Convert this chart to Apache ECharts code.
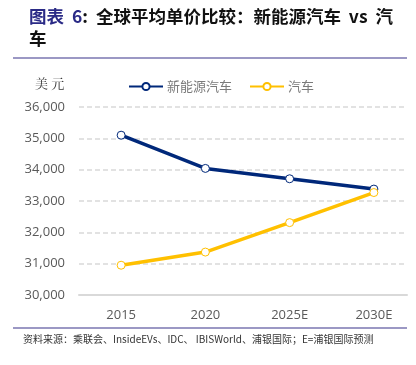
<!DOCTYPE html>
<html><head><meta charset="utf-8">
<script src="https://cdn.jsdelivr.net/npm/echarts@6/dist/echarts.min.js"></script>
<style>html,body{margin:0;padding:0;background:#fff}#c{width:416px;height:365px}</style>
</head><body><div id="c"></div>
<script>
const categories = ['2015', '2020', '2025E', '2030E'];
const evPrice = [35100, 34040, 33710, 33380];
const icePrice = [30950, 31370, 32310, 33270];
const yTicks = { min: 30000, max: 36000, interval: 1000 };
const seriesNames = ['新能源汽车', '汽车'];

const chart = echarts.init(document.getElementById('c'), null, { renderer: 'canvas' });
const labelFont = '"Open Sans", "Noto Sans", sans-serif';
const cjk = '"Noto Sans CJK SC", sans-serif';
const option = {
  backgroundColor: '#ffffff',
  animation: false,
  title: {
    left: 24, top: 0,
    text: '{a|图表  6}{b|:  全球平均单价比较：新能源汽车  vs  汽}\n{b|车}',
    textStyle: {
      rich: {
        a: { fontFamily: cjk, fontWeight: 'bold', fontSize: 17.5, color: '#2a2a86', lineHeight: 22 },
        b: { fontFamily: cjk, fontWeight: 'bold', fontSize: 17.5, color: '#111111', lineHeight: 22 }
      }
    }
  },
  legend: {
    left: 123, top: 75, padding: 5,
    itemWidth: 34, itemHeight: 9, itemGap: 17,
    textStyle: { fontFamily: cjk, fontSize: 13, color: '#7a7a7a', padding: [0, 0, 0, -1] },
    data: seriesNames
  },
  graphic: [
    { type: 'line', shape: { x1: 13, y1: 58, x2: 407, y2: 58 }, style: { stroke: '#7a76b0', lineWidth: 1.5 } },
    { type: 'line', shape: { x1: 13, y1: 328, x2: 407, y2: 328 }, style: { stroke: '#7a76b0', lineWidth: 1.5 } },
    { type: 'text', left: 35, top: 77, style: { text: '美 元', font: '13px "Noto Serif CJK SC", "Noto Sans CJK SC", serif', fill: '#333333' } },
    { type: 'text', left: 23, top: 334, style: { text: '资料来源：乘联会、InsideEVs、IDC、 IBISWorld、浦银国际；E=浦银国际预测', font: '10px "Noto Sans CJK SC", sans-serif', fill: '#333333' } }
  ],
  grid: [
    { left: 79, width: 339, top: 107, bottom: 70, containLabel: false },
    { left: 79, width: 328, top: 107, bottom: 70, containLabel: false }
  ],
  xAxis: [
    {
      gridIndex: 0, type: 'category', data: categories, boundaryGap: true,
      axisLine: { show: false }, axisTick: { show: false },
      axisLabel: { margin: 14, fontFamily: labelFont, fontSize: 13, color: '#595959' }
    },
    {
      gridIndex: 1, type: 'category', data: categories,
      axisLine: { show: true, lineStyle: { color: '#d9d9d9', width: 2 } },
      axisTick: { show: false }, axisLabel: { show: false }
    }
  ],
  yAxis: [
    {
      gridIndex: 0, type: 'value', min: yTicks.min, max: yTicks.max, interval: yTicks.interval,
      axisLine: { show: false }, axisTick: { show: false }, axisLabel: { show: false }, splitLine: { show: false }
    },
    {
      gridIndex: 1, type: 'value', min: yTicks.min, max: yTicks.max, interval: yTicks.interval,
      axisLine: { show: false }, axisTick: { show: false },
      axisLabel: {
        margin: 14, fontFamily: labelFont, fontSize: 13, color: '#595959',
        formatter: v => v.toLocaleString('en-US')
      },
      splitLine: { show: true, lineStyle: { color: '#d9d9d9', width: 1.5, type: [5, 3] } }
    }
  ],
  series: [
    {
      name: seriesNames[0], type: 'line', xAxisIndex: 0, yAxisIndex: 0, data: evPrice,
      symbol: 'circle', symbolSize: 8, z: 3,
      lineStyle: { color: '#00287a', width: 3.5 },
      itemStyle: { color: '#ffffff', borderColor: '#00287a', borderWidth: 1 }
    },
    {
      name: seriesNames[1], type: 'line', xAxisIndex: 0, yAxisIndex: 0, data: icePrice,
      symbol: 'circle', symbolSize: 8, z: 4,
      lineStyle: { color: '#ffc000', width: 3.5 },
      itemStyle: { color: '#ffffff', borderColor: '#ffc000', borderWidth: 1 }
    }
  ]
};
chart.setOption(option);
</script>
</body></html>
